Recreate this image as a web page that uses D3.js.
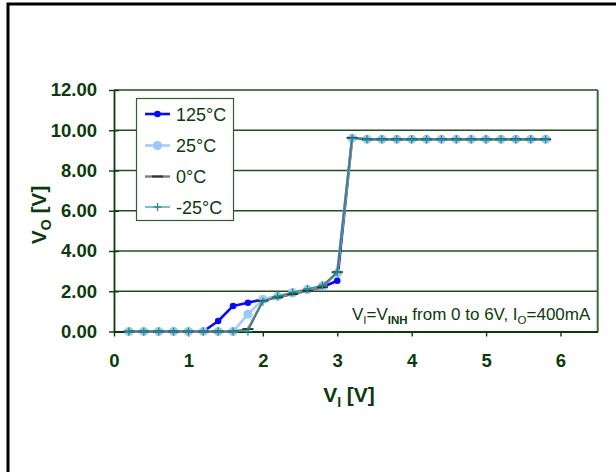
<!DOCTYPE html>
<html><head><meta charset="utf-8">
<script src="https://cdn.jsdelivr.net/npm/d3@7"></script>
<style>
body{margin:0;background:#fff;}
svg{display:block;font-family:"Liberation Sans",Arial,sans-serif;}
</style></head>
<body><svg id="c" width="616" height="472"></svg>
<script>
const xs = [0.2,0.4,0.6,0.8,1.0,1.2,1.4,1.6,1.8,2.0,2.2,2.4,2.6,2.8,3.0,3.2,3.4,3.6,3.8,4.0,4.2,4.4,4.6,4.8,5.0,5.2,5.4,5.6,5.8];
const v125 = [0,0,0,0,0,0,0.52,1.27,1.43,1.60,1.72,1.88,2.05,2.20,2.52,9.60,9.55,9.55,9.55,9.55,9.55,9.55,9.55,9.55,9.55,9.55,9.55,9.55,9.55];
const v25  = [0,0,0,0,0,0,0,0,0.86,1.60,1.75,1.92,2.08,2.25,2.90,9.60,9.55,9.55,9.55,9.55,9.55,9.55,9.55,9.55,9.55,9.55,9.55,9.55,9.55];
const v0   = [0,0,0,0,0,0,0,0,0.12,1.52,1.70,1.86,2.02,2.20,2.95,9.62,9.55,9.55,9.55,9.55,9.55,9.55,9.55,9.55,9.55,9.55,9.55,9.55,9.55];
const vm25 = [0,0,0,0,0,0,0,0,0,1.48,1.76,1.95,2.12,2.30,2.95,9.60,9.55,9.55,9.55,9.55,9.55,9.55,9.55,9.55,9.55,9.55,9.55,9.55,9.55];
const seriesNames = ["125°C","25°C","0°C","-25°C"];
const xTicks = [0,1,2,3,4,5,6];
const yTicks = [0,2,4,6,8,10,12];

const svg = d3.select("#c");
const ink = "#0b3b0b";
const gridC = "#1f4f1f";
const x = d3.scaleLinear().domain([0,6.5]).range([114,597.7]);
const y = d3.scaleLinear().domain([0,12]).range([331.5,90]);

// outer border (top + left)
svg.append("path").attr("d","M8,480 L8,4 L620,4").attr("fill","none").attr("stroke","#000").attr("stroke-width",3);

// gridlines
svg.append("g").selectAll("line").data(yTicks.filter(d=>d>0)).join("line")
  .attr("x1",x(0)).attr("x2",x(6.5)).attr("y1",d=>y(d)).attr("y2",d=>y(d))
  .attr("stroke",gridC).attr("stroke-width",1.4);
// right border of plot
svg.append("line").attr("x1",x(6.5)).attr("x2",x(6.5)).attr("y1",y(12)).attr("y2",y(0))
  .attr("stroke","#3a6a3a").attr("stroke-width",2);

// axes
const ya = svg.append("g").attr("transform",`translate(${x(0)},0)`)
  .call(d3.axisLeft(y).tickValues(yTicks).tickFormat(d3.format(".2f")).tickSizeInner(5).tickSizeOuter(0).tickPadding(12));
ya.select(".domain").attr("stroke",ink).attr("stroke-width",1.8);
ya.selectAll(".tick line").attr("stroke",ink).attr("stroke-width",1.4).attr("x2",-5).attr("x1",5);
ya.selectAll("text").attr("fill",ink).attr("font-size",18.5).attr("font-weight","bold")
  .attr("font-family","Liberation Sans, Arial, sans-serif");

const xa = svg.append("g").attr("transform",`translate(0,${y(0)})`)
  .call(d3.axisBottom(x).tickValues(xTicks).tickFormat(d3.format("d")).tickSizeInner(5).tickSizeOuter(0).tickPadding(17));
xa.select(".domain").attr("stroke",ink).attr("stroke-width",1.8);
xa.selectAll(".tick line").attr("stroke",ink).attr("stroke-width",1.4);
xa.selectAll("text").attr("fill",ink).attr("font-size",18.5).attr("font-weight","bold")
  .attr("font-family","Liberation Sans, Arial, sans-serif");

// axis titles
const yt = svg.append("text").attr("transform","translate(46,215) rotate(-90)")
  .attr("text-anchor","middle").attr("fill",ink).attr("font-size",21).attr("font-weight","bold");
yt.append("tspan").text("V");
yt.append("tspan").text("O").attr("font-size",14).attr("dy",5);
yt.append("tspan").text(" [V]").attr("dy",-5);

const xt = svg.append("text").attr("x",349).attr("y",402)
  .attr("text-anchor","middle").attr("fill",ink).attr("font-size",21).attr("font-weight","bold");
xt.append("tspan").text("V");
xt.append("tspan").text("I").attr("font-size",14).attr("dy",5);
xt.append("tspan").text(" [V]").attr("dy",-5);

// annotation
const an = svg.append("text").attr("x",352).attr("y",320).attr("fill",ink).attr("font-size",17);
an.append("tspan").text("V");
an.append("tspan").text("I").attr("font-size",11.5).attr("dy",4);
an.append("tspan").text("=V").attr("dy",-4);
an.append("tspan").text("INH").attr("font-size",11.5).attr("font-weight","bold").attr("dy",4);
an.append("tspan").text(" from 0 to 6V, I").attr("dy",-4);
an.append("tspan").text("O").attr("font-size",11.5).attr("dy",4);
an.append("tspan").text("=400mA").attr("dy",-4);

// series
const pts = arr => xs.map((v,i)=>[v,arr[i]]);
const line = d3.line().x(d=>x(d[0])).y(d=>y(d[1]));
const styles = [
  {data:v125, stroke:"#0a0af5", sw:2.6, marker:"dot", mfill:"#0a0af5", r:3.3},
  {data:v25, stroke:"#a3cdf7", sw:2.6, marker:"dot", mfill:"#99c9f7", r:4.6},
  {data:v0, stroke:"#7d7d7d", sw:2.4, marker:"dash", mfill:"#333"},
  {data:vm25, stroke:"#1a8c8c", sw:1.1, marker:"plus", mfill:"#1a8c8c"}
];
function drawMarker(g, s, cx, cy){
  if(s.marker==="dot") g.append("circle").attr("cx",cx).attr("cy",cy).attr("r",s.r).attr("fill",s.mfill);
  else if(s.marker==="dash") g.append("line").attr("x1",cx-5.5).attr("x2",cx+5.5).attr("y1",cy).attr("y2",cy).attr("stroke",s.mfill).attr("stroke-width",2);
  else { g.append("line").attr("x1",cx-4).attr("x2",cx+4).attr("y1",cy).attr("y2",cy).attr("stroke",s.mfill).attr("stroke-width",1.3);
         g.append("line").attr("x1",cx).attr("x2",cx).attr("y1",cy-4).attr("y2",cy+4).attr("stroke",s.mfill).attr("stroke-width",1.3); }
}
styles.forEach(s=>{
  const g = svg.append("g");
  g.append("path").attr("d",line(pts(s.data))).attr("fill","none").attr("stroke",s.stroke).attr("stroke-width",s.sw).attr("stroke-linejoin","round");
  pts(s.data).forEach(d=>drawMarker(g,s,x(d[0]),y(d[1])));
});

// legend
const lg = svg.append("g");
lg.append("rect").attr("x",136.5).attr("y",98.5).attr("width",97).attr("height",122)
  .attr("fill","#fff").attr("stroke","#2f5f2f").attr("stroke-width",1.2);
const ly = [114,145.5,176.5,207];
styles.forEach((s,i)=>{
  lg.append("line").attr("x1",145).attr("x2",170).attr("y1",ly[i]).attr("y2",ly[i]).attr("stroke",s.stroke).attr("stroke-width",s.sw);
  drawMarker(lg,s,157.5,ly[i]);
  lg.append("text").attr("x",176).attr("y",ly[i]+6.5).attr("fill",ink).attr("font-size",18).text(seriesNames[i]);
});
</script></body></html>
